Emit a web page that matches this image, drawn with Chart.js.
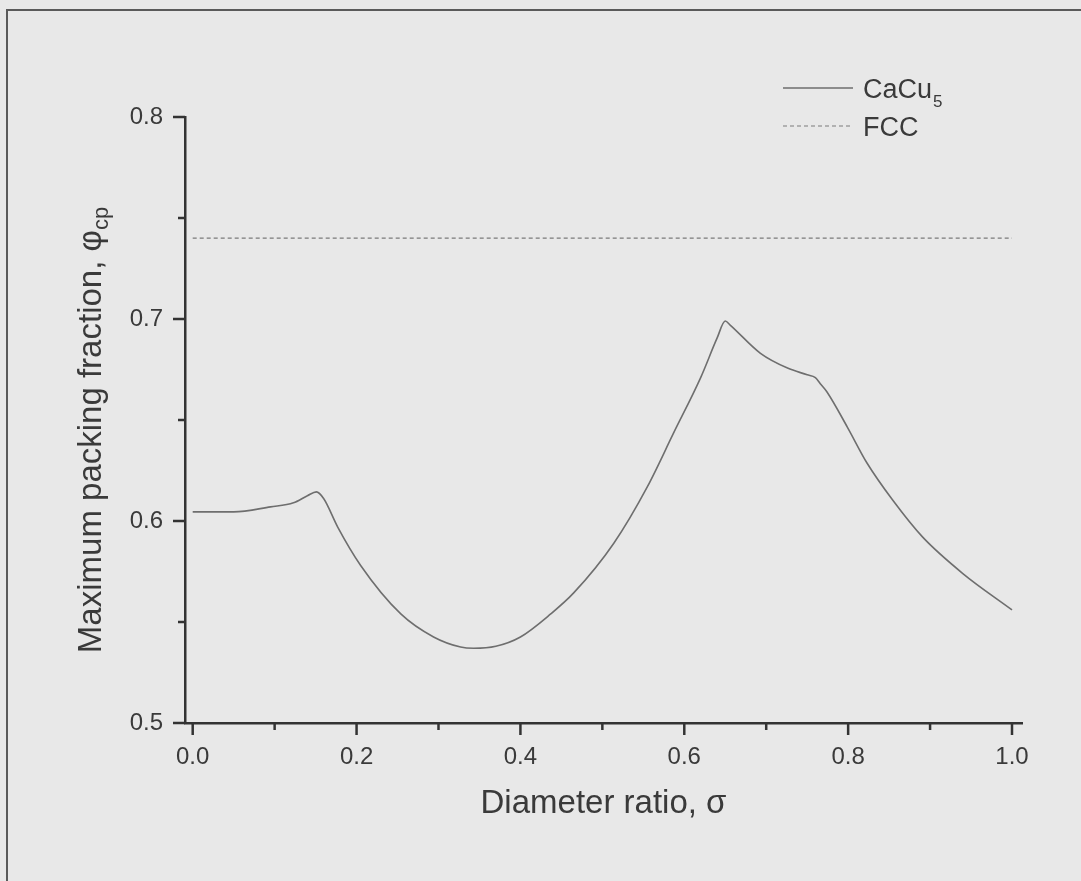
<!DOCTYPE html>
<html><head><meta charset="utf-8">
<script src="https://cdn.jsdelivr.net/npm/chart.js@4"></script>
<style>
html,body{margin:0;padding:0;background:#e8e8e8;overflow:hidden}
#wrap{position:relative;width:1081px;height:881px}
#frame{position:absolute;left:6px;top:9px;width:1100px;height:900px;border-left:2px solid #5a5a5a;border-top:2px solid #5a5a5a;pointer-events:none}
canvas{position:absolute;left:0;top:0}
</style></head><body>
<div id="wrap"><canvas id="c" width="1081" height="881"></canvas><div id="frame"></div></div>
<script>
// ---- data ----
const sigma = [0.000, 0.050, 0.095, 0.123, 0.140, 0.151, 0.160, 0.177, 0.205, 0.254, 0.294, 0.327, 0.343, 0.370, 0.400, 0.437, 0.465, 0.514, 0.555, 0.587, 0.620, 0.640, 0.650, 0.656, 0.693, 0.726, 0.750, 0.760, 0.766, 0.774, 0.799, 0.823, 0.855, 0.891, 0.940, 1.000];
const cacu5 = [0.6045, 0.6045, 0.6070, 0.6090, 0.6125, 0.6144, 0.6110, 0.5970, 0.5780, 0.5540, 0.5426, 0.5376, 0.5370, 0.5380, 0.5426, 0.5540, 0.5644, 0.5890, 0.6170, 0.6436, 0.6710, 0.6905, 0.6990, 0.6970, 0.6830, 0.6757, 0.6724, 0.6710, 0.6680, 0.6640, 0.6465, 0.6287, 0.6100, 0.5920, 0.5740, 0.5560];
const fccSigma = [0.0, 1.0];
const fcc = [0.74, 0.74];
const xMajorTicks = [0.0, 0.2, 0.4, 0.6, 0.8, 1.0];
const xMinorTicks = [0.1, 0.3, 0.5, 0.7, 0.9];
const yMajorTicks = [0.5, 0.6, 0.7, 0.8];
const yMinorTicks = [0.55, 0.65, 0.75];
const legendSubs = ['5', ''];
const seriesNames = ['CaCu', 'FCC'];
const xTitle = 'Diameter ratio, \u03C3';
const yTitle = 'Maximum packing fraction, \u03C6';
const yTitleSub = 'cp';

const FONT = '"Liberation Sans", Arial, sans-serif';
const TXT = '#3a3a3a';
const AX = '#333333';

const tickPlugin = {
  id: 'ticksAndTitles',
  afterDraw(chart) {
    const ctx = chart.ctx, ca = chart.chartArea;
    const xs = chart.scales.x, ys = chart.scales.y;
    ctx.save();
    ctx.strokeStyle = AX; ctx.lineWidth = 2.5; ctx.lineCap = 'butt';
    const xt = (vals, len) => vals.forEach(v => { const p = xs.getPixelForValue(v); ctx.beginPath(); ctx.moveTo(p, ca.bottom); ctx.lineTo(p, ca.bottom + len); ctx.stroke(); });
    const yt = (vals, len) => vals.forEach(v => { const p = ys.getPixelForValue(v); ctx.beginPath(); ctx.moveTo(ca.left, p); ctx.lineTo(ca.left - len, p); ctx.stroke(); });
    xt(xMajorTicks, 12); xt(xMinorTicks, 7);
    yt(yMajorTicks, 12); yt(yMinorTicks, 7);

    // x title
    ctx.fillStyle = TXT;
    ctx.font = '33px ' + FONT;
    ctx.textAlign = 'center'; ctx.textBaseline = 'alphabetic';
    ctx.fillText(xs.options.title.text, (ca.left + ca.right) / 2, 813);

    // y title with subscript
    ctx.save();
    ctx.translate(101, 430);
    ctx.rotate(-Math.PI / 2);
    ctx.textAlign = 'left';
    ctx.font = '33px ' + FONT;
    const mainW = ctx.measureText(ys.options.title.text).width;
    ctx.font = '22px ' + FONT;
    const subW = ctx.measureText(yTitleSub).width;
    const start = -(mainW + subW) / 2;
    ctx.font = '33px ' + FONT;
    ctx.fillText(ys.options.title.text, start, 0);
    ctx.font = '22px ' + FONT;
    ctx.fillText(yTitleSub, start + mainW, 7);
    ctx.restore();

    // legend
    const rows = [88, 126];
    chart.data.datasets.forEach((ds, i) => {
      const y = rows[i];
      ctx.save();
      ctx.strokeStyle = ds.borderColor; ctx.lineWidth = ds.borderWidth;
      ctx.setLineDash(ds.borderDash || []);
      ctx.beginPath(); ctx.moveTo(783, y); ctx.lineTo(853, y); ctx.stroke();
      ctx.restore();
      ctx.fillStyle = TXT; ctx.textAlign = 'left'; ctx.textBaseline = 'alphabetic';
      ctx.font = '27px ' + FONT;
      ctx.fillText(ds.label, 863, y + 10);
      if (legendSubs[i]) {
        const w = ctx.measureText(ds.label).width;
        ctx.font = '17px ' + FONT;
        ctx.fillText(legendSubs[i], 863 + w + 1, y + 19);
      }
    });
    ctx.restore();
  }
};

new Chart(document.getElementById('c'), {
  type: 'line',
  data: {
    datasets: [
      { label: seriesNames[0], data: sigma.map((s, i) => ({ x: s, y: cacu5[i] })),
        borderColor: '#6e6e6e', borderWidth: 1.6, pointRadius: 0, fill: false,
        cubicInterpolationMode: 'monotone' },
      { label: seriesNames[1], data: fccSigma.map((s, i) => ({ x: s, y: fcc[i] })),
        borderColor: '#7a7a7a', borderWidth: 1.2, borderDash: [4, 3], pointRadius: 0, fill: false, tension: 0 }
    ]
  },
  options: {
    responsive: false, animation: false, devicePixelRatio: 1,
    layout: { padding: { top: 117, right: 59, left: 0, bottom: 0 } },
    plugins: { legend: { display: false }, tooltip: { enabled: false } },
    scales: {
      x: {
        type: 'linear', min: -0.0094, max: 1.0122,
        afterFit: s => { s.height = 158; },
        afterBuildTicks: s => { s.ticks = xMajorTicks.map(v => ({ value: v })); },
        grid: { display: false, drawTicks: false },
        border: { display: true, color: AX, width: 2.5 },
        ticks: { padding: 20, color: TXT, font: { family: FONT, size: 24 }, maxRotation: 0, autoSkip: false,
          callback: v => Number(v).toFixed(1) },
        title: { display: false, text: xTitle }
      },
      y: {
        type: 'linear', min: 0.5, max: 0.8,
        afterFit: s => { s.width = 185; },
        afterBuildTicks: s => { s.ticks = yMajorTicks.map(v => ({ value: v })); },
        grid: { display: false, drawTicks: false },
        border: { display: true, color: AX, width: 2.5 },
        ticks: { padding: 22, color: TXT, font: { family: FONT, size: 24 }, autoSkip: false,
          callback: v => Number(v).toFixed(1) },
        title: { display: false, text: yTitle }
      }
    }
  },
  plugins: [tickPlugin]
});
</script>
</body></html>
